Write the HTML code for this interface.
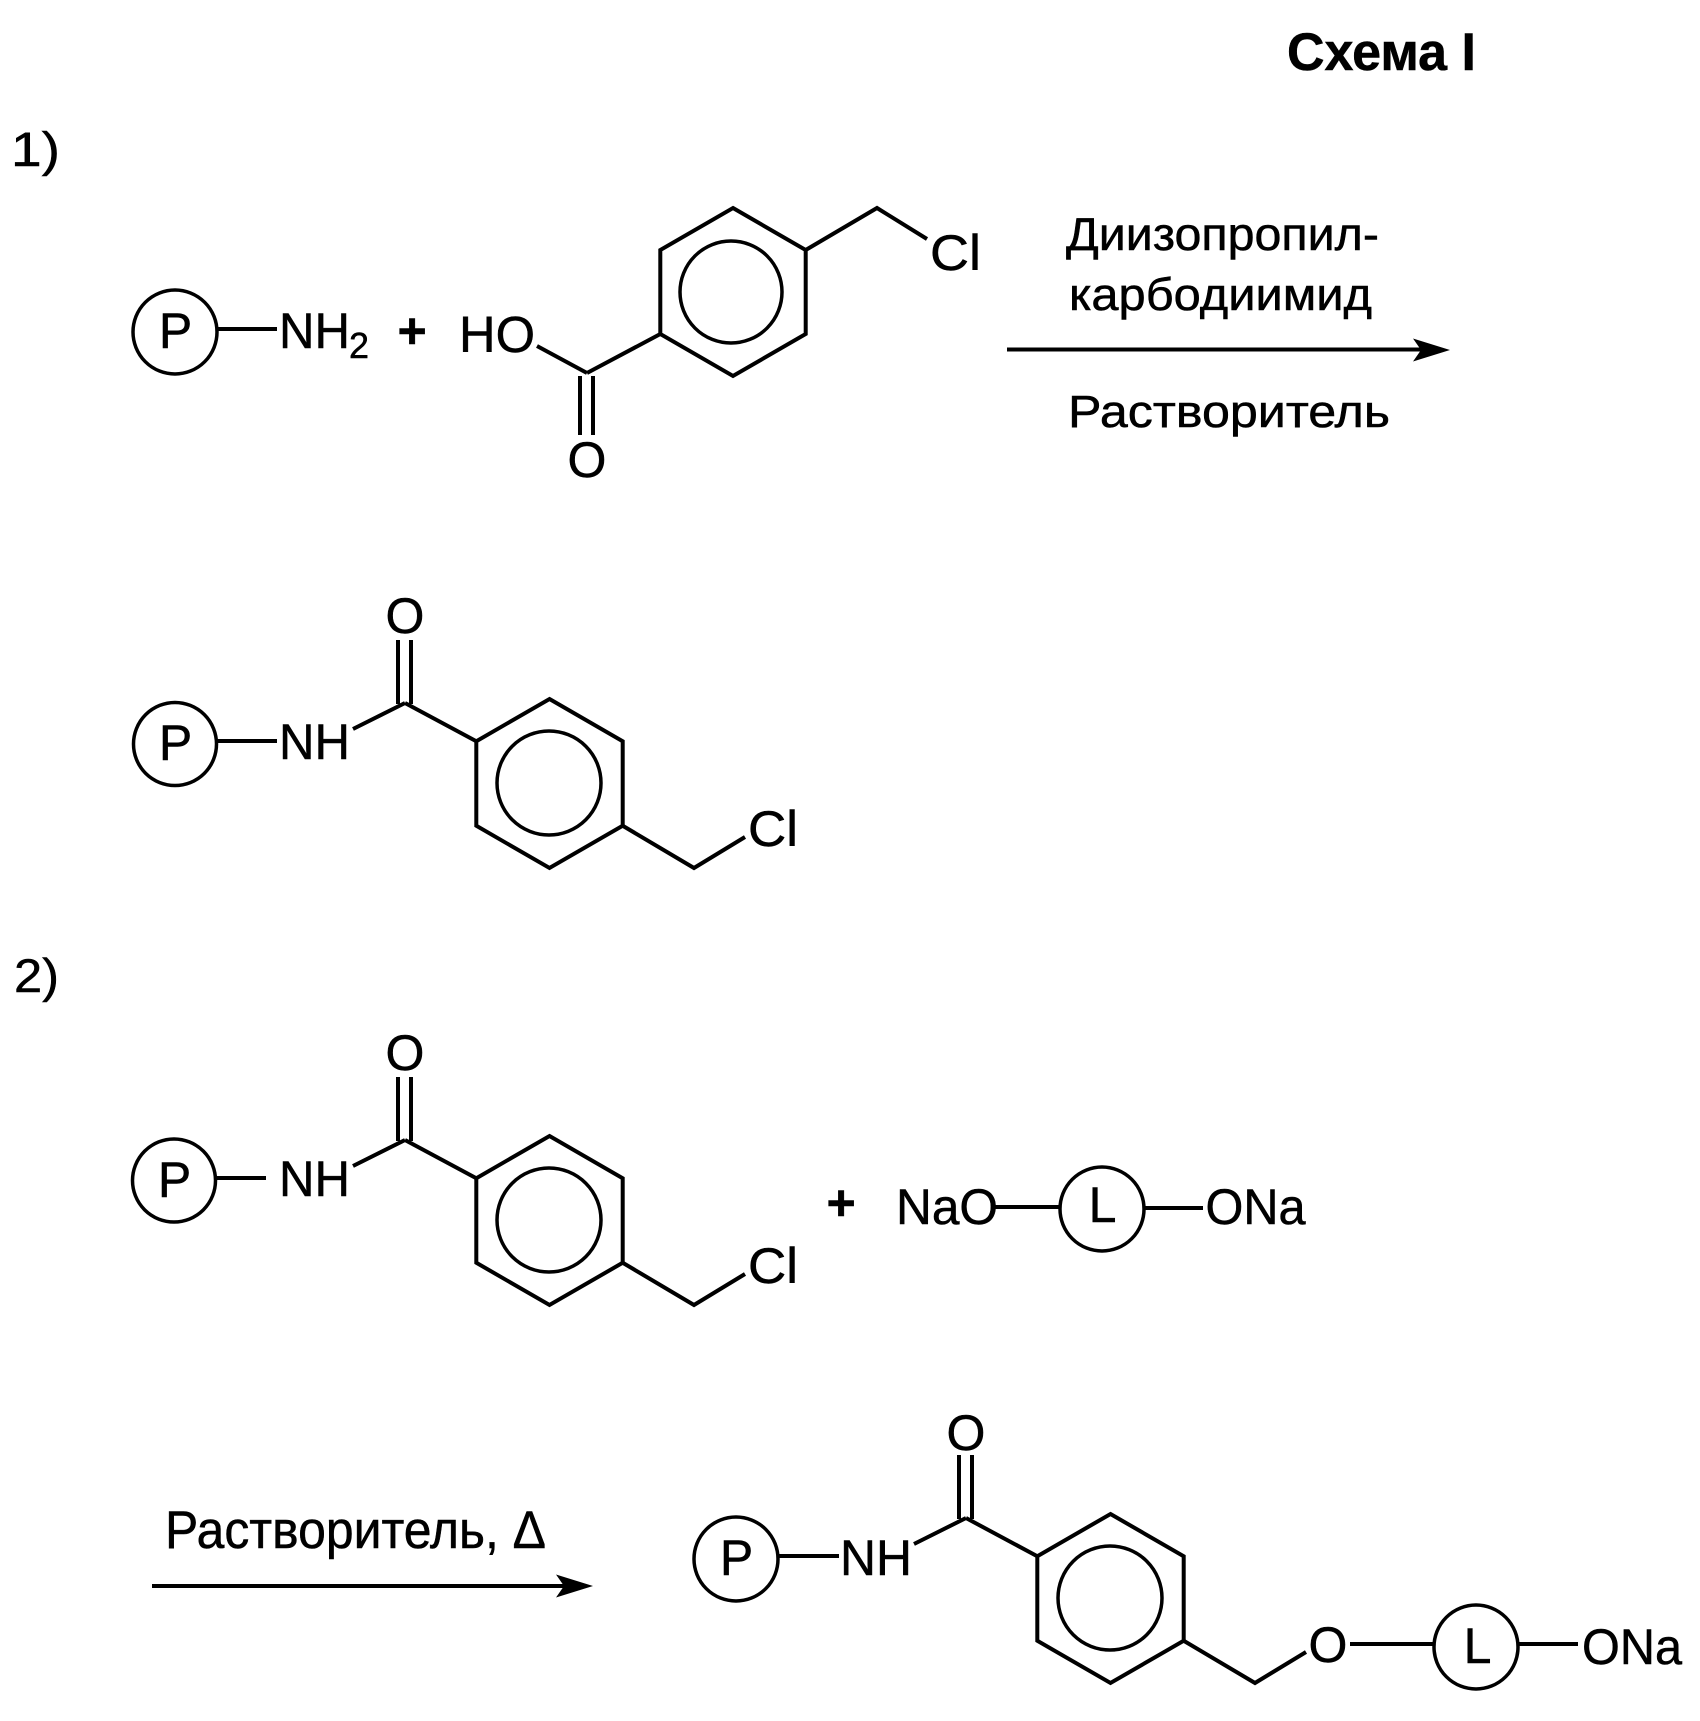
<!DOCTYPE html>
<html>
<head>
<meta charset="utf-8">
<style>
  html, body { margin: 0; padding: 0; background: #ffffff; }
  svg { display: block; }
  text { font-family: "Liberation Sans", "DejaVu Sans", sans-serif; fill: #000; stroke: #000; stroke-width: 0.5px; }
</style>
</head>
<body>
<svg xmlns="http://www.w3.org/2000/svg" width="1700" height="1721" viewBox="0 0 1700 1721">
  <rect x="0" y="0" width="1700" height="1721" fill="#ffffff"/>

  <!-- Title -->
  <text x="1287" y="70" font-size="53" font-weight="bold" textLength="189" lengthAdjust="spacingAndGlyphs">Схема I</text>

  <!-- Step labels -->
  <text x="11" y="166" font-size="48" textLength="49" lengthAdjust="spacingAndGlyphs">1)</text>
  <text x="14" y="992" font-size="47" textLength="45" lengthAdjust="spacingAndGlyphs">2)</text>

  <g stroke="#000" stroke-width="4" fill="none" stroke-linecap="butt" stroke-linejoin="miter">
    <!-- ===== STEP 1 REACTANTS ===== -->
    <circle cx="175" cy="332" r="42" stroke-width="3.5"/>
    <line x1="217" y1="329" x2="277" y2="329"/>
    <!-- HO-C(=O) -->
    <line x1="537" y1="346" x2="587" y2="373"/>
    <line x1="587" y1="373" x2="660.3" y2="334"/>
    <line x1="580" y1="376" x2="580" y2="435"/>
    <line x1="593" y1="376" x2="593" y2="435"/>
    <!-- ring -->
    <polygon points="733,208 805.7,250 805.7,334 733,376 660.3,334 660.3,250"/>
    <circle cx="731" cy="292" r="51" stroke-width="3.5"/>
    <!-- CH2Cl -->
    <polyline points="805.7,250 877,208 927,239"/>

    <!-- arrow 1 -->
    <line x1="1007" y1="349.5" x2="1425" y2="349.5"/>

    <!-- ===== STEP 1 PRODUCT ===== -->
    <circle cx="175" cy="744" r="41.5" stroke-width="3.5"/>
    <line x1="216" y1="741" x2="277" y2="741"/>
    <line x1="353" y1="729" x2="405" y2="703"/>
    <line x1="398" y1="640" x2="398" y2="704"/>
    <line x1="411" y1="640" x2="411" y2="704"/>
    <line x1="405" y1="703" x2="476.3" y2="741.25"/>
    <polygon points="549.5,699 622.7,741.25 622.7,825.75 549.5,868 476.3,825.75 476.3,741.25"/>
    <circle cx="549" cy="783" r="52" stroke-width="3.5"/>
    <polyline points="622.7,825.75 694,868 745,837"/>

    <!-- ===== STEP 2 REACTANTS ===== -->
    <circle cx="174" cy="1180.5" r="41.5" stroke-width="3.5"/>
    <line x1="215" y1="1178" x2="266" y2="1178"/>
    <line x1="353" y1="1166" x2="405" y2="1140"/>
    <line x1="398" y1="1077" x2="398" y2="1141"/>
    <line x1="411" y1="1077" x2="411" y2="1141"/>
    <line x1="405" y1="1140" x2="476.3" y2="1178.25"/>
    <polygon points="549.5,1136 622.7,1178.25 622.7,1262.75 549.5,1305 476.3,1262.75 476.3,1178.25"/>
    <circle cx="549" cy="1220" r="52" stroke-width="3.5"/>
    <polyline points="622.7,1262.75 694,1305 745,1274"/>

    <!-- NaO-L-ONa -->
    <line x1="995" y1="1207" x2="1060" y2="1207"/>
    <circle cx="1102" cy="1209" r="42" stroke-width="3.5"/>
    <line x1="1144" y1="1208" x2="1203" y2="1208"/>

    <!-- arrow 2 -->
    <line x1="152" y1="1586" x2="566" y2="1586"/>

    <!-- ===== STEP 2 PRODUCT ===== -->
    <circle cx="736" cy="1559" r="42" stroke-width="3.5"/>
    <line x1="778" y1="1556" x2="839" y2="1556"/>
    <line x1="914" y1="1544" x2="966" y2="1518"/>
    <line x1="959" y1="1455" x2="959" y2="1519"/>
    <line x1="972" y1="1455" x2="972" y2="1519"/>
    <line x1="966" y1="1518" x2="1037.3" y2="1556.25"/>
    <polygon points="1110.5,1514 1183.7,1556.25 1183.7,1640.75 1110.5,1683 1037.3,1640.75 1037.3,1556.25"/>
    <circle cx="1110" cy="1598" r="52" stroke-width="3.5"/>
    <polyline points="1183.7,1640.75 1255,1683 1306,1652"/>
    <line x1="1350" y1="1644" x2="1434" y2="1644"/>
    <circle cx="1476" cy="1647" r="42" stroke-width="3.5"/>
    <line x1="1518" y1="1644" x2="1578" y2="1644"/>
  </g>

  <!-- arrowheads -->
  <polygon points="1450,350 1413,338.5 1421,350 1413,361.5" fill="#000"/>
  <polygon points="593,1586 556,1574.5 564,1586 556,1597.5" fill="#000"/>

  <!-- ===== STEP 1 TEXT ===== -->
  <text x="175.5" y="348" font-size="50" text-anchor="middle">P</text>
  <text x="279" y="348" font-size="50" textLength="71" lengthAdjust="spacingAndGlyphs">NH</text>
  <text x="349" y="358" font-size="36" textLength="20" lengthAdjust="spacingAndGlyphs">2</text>
  <text x="397.5" y="348" font-size="50" font-weight="bold">+</text>
  <text x="459" y="352" font-size="51" textLength="76" lengthAdjust="spacingAndGlyphs">HO</text>
  <text x="587" y="477" font-size="50" text-anchor="middle">O</text>
  <text x="930" y="270" font-size="50" textLength="51" lengthAdjust="spacingAndGlyphs">Cl</text>

  <text x="1066" y="250" font-size="46" textLength="313" lengthAdjust="spacingAndGlyphs">Диизопропил-</text>
  <text x="1069" y="310" font-size="45" textLength="303" lengthAdjust="spacingAndGlyphs">карбодиимид</text>
  <text x="1068" y="427" font-size="45" textLength="322" lengthAdjust="spacingAndGlyphs">Растворитель</text>

  <!-- product 1 text -->
  <text x="175.5" y="760" font-size="50" text-anchor="middle">P</text>
  <text x="279" y="759" font-size="50" textLength="71" lengthAdjust="spacingAndGlyphs">NH</text>
  <text x="405" y="633" font-size="50" text-anchor="middle">O</text>
  <text x="748" y="846" font-size="50" textLength="50" lengthAdjust="spacingAndGlyphs">Cl</text>

  <!-- ===== STEP 2 TEXT ===== -->
  <text x="174.5" y="1197" font-size="50" text-anchor="middle">P</text>
  <text x="279" y="1196" font-size="50" textLength="71" lengthAdjust="spacingAndGlyphs">NH</text>
  <text x="405" y="1070" font-size="50" text-anchor="middle">O</text>
  <text x="748" y="1283" font-size="50" textLength="50" lengthAdjust="spacingAndGlyphs">Cl</text>

  <text x="826.5" y="1220" font-size="50" font-weight="bold">+</text>
  <text x="896" y="1224" font-size="50" textLength="102" lengthAdjust="spacingAndGlyphs">NaO</text>
  <text x="1102.5" y="1222" font-size="50" text-anchor="middle">L</text>
  <text x="1205.5" y="1224" font-size="50" textLength="100" lengthAdjust="spacingAndGlyphs">ONa</text>

  <text x="165" y="1548" font-size="53" textLength="381" lengthAdjust="spacingAndGlyphs">Растворитель, Δ</text>

  <!-- product 2 text -->
  <text x="736.5" y="1575" font-size="50" text-anchor="middle">P</text>
  <text x="840" y="1575" font-size="50" textLength="72" lengthAdjust="spacingAndGlyphs">NH</text>
  <text x="966" y="1450" font-size="50" text-anchor="middle">O</text>
  <text x="1328" y="1662" font-size="50" text-anchor="middle">O</text>
  <text x="1477.5" y="1663" font-size="50" text-anchor="middle">L</text>
  <text x="1582" y="1664" font-size="50" textLength="100" lengthAdjust="spacingAndGlyphs">ONa</text>
</svg>
</body>
</html>
